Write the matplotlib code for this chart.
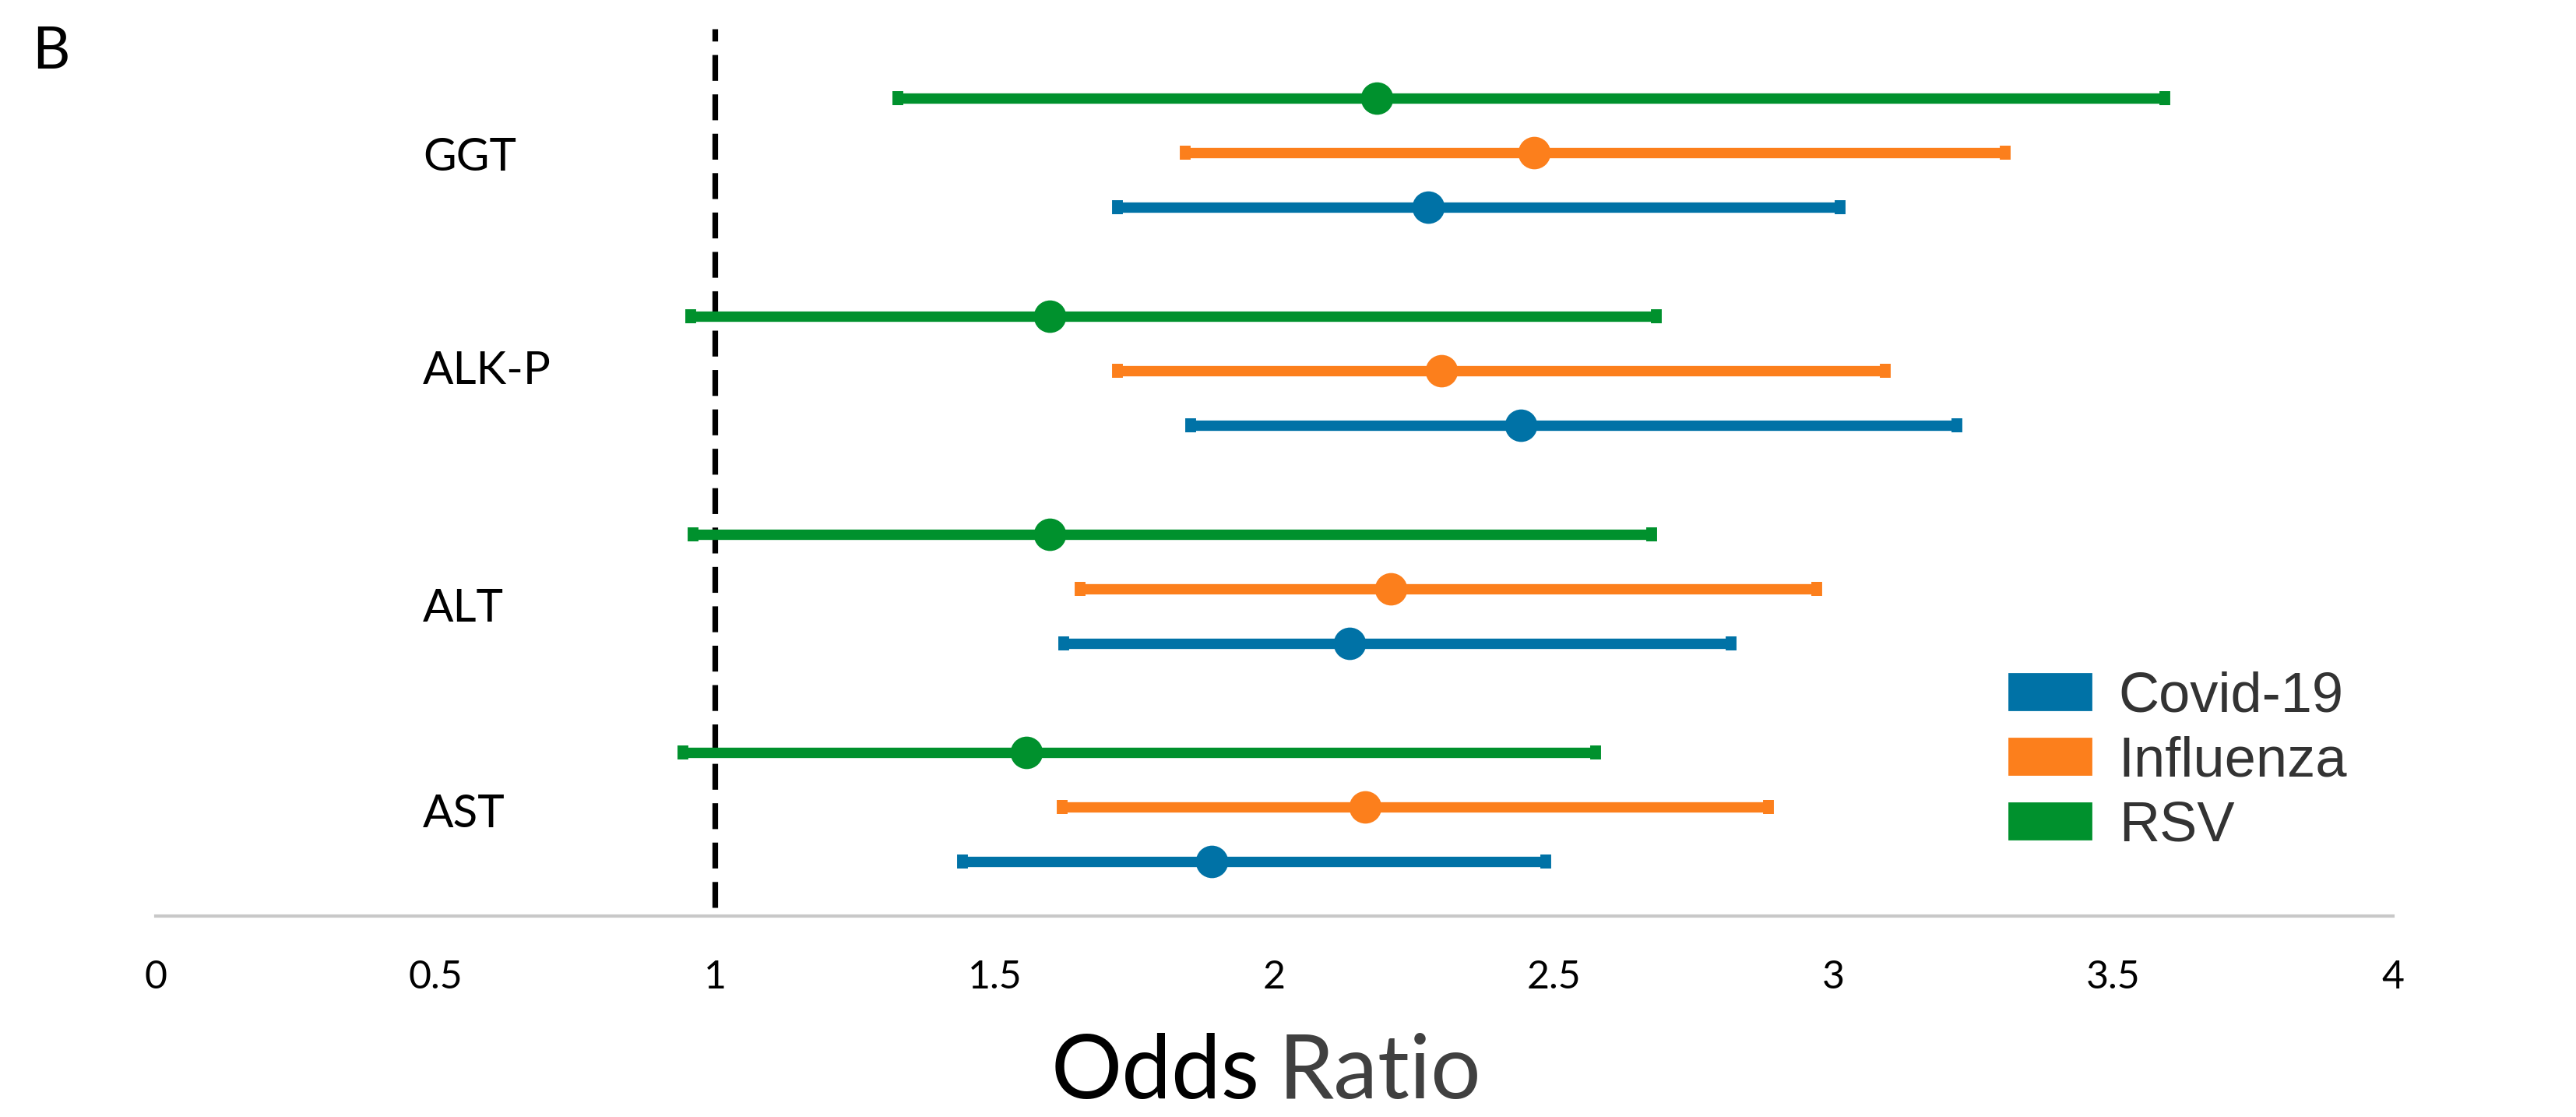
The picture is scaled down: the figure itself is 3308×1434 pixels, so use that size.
import numpy as np
import matplotlib
matplotlib.use("Agg")
import matplotlib.pyplot as plt
from matplotlib.patches import Patch

# liver enzymes, top to bottom
markers = ["GGT", "ALK-P", "ALT", "AST"]

covid_or = [2.275, 2.44, 2.135, 1.888]
covid_lo = [1.719, 1.850, 1.624, 1.443]
covid_hi = [3.011, 3.221, 2.817, 2.485]

flu_or = [2.465, 2.298, 2.208, 2.162]
flu_lo = [1.840, 1.719, 1.653, 1.621]
flu_hi = [3.307, 3.092, 2.970, 2.884]

rsv_or = [2.183, 1.598, 1.598, 1.557]
rsv_lo = [1.327, 0.957, 0.960, 0.942]
rsv_hi = [3.592, 2.683, 2.675, 2.575]

xticks = [0, 0.5, 1, 1.5, 2, 2.5, 3, 3.5, 4]
xticklabels = ["0", "0.5", "1", "1.5", "2", "2.5", "3", "3.5", "4"]

blue = "#0072A6"
orange = "#FC7F1C"
green = "#00912D"

W, H = 3308, 1434
fig = plt.figure(figsize=(W / 200, H / 200), dpi=200)
ax = fig.add_axes([200 / W, 1 - 1176 / H, (3073 - 200) / W, (1176 - 37) / H])

n = len(markers)
group = np.arange(n)[::-1] * 4  # GGT at top
series = [
    (covid_or, covid_lo, covid_hi, blue, 0),
    (flu_or, flu_lo, flu_hi, orange, 1),
    (rsv_or, rsv_lo, rsv_hi, green, 2),
]
for orr, lo, hi, col, off in series:
    orr = np.array(orr)
    err = [orr - np.array(lo), np.array(hi) - orr]
    ax.errorbar(orr, group + off, xerr=err, fmt="o", color=col, ecolor=col,
                elinewidth=4.8, capsize=3.4, capthick=5, markersize=14,
                zorder=3)

ax.axvline(1, ymin=0.01, ymax=1, color="black", lw=2.6, dashes=(4.6, 2.4), zorder=2)

# category labels inside the plot
label_y = [12.9, 8.99, 4.64, 0.86]
for name, yy in zip(markers, label_y):
    ax.text(0.478, yy, name, fontsize=21, family="Lato", ha="left", va="center",
            color="black")

ax.set_xlim(0, 4)
ax.set_ylim(-1, 15.27)
ax.set_xticks(xticks)
ax.set_xticklabels(xticklabels, family="Lato", fontsize=18)
ax.tick_params(axis="x", length=0, pad=20)
ax.set_yticks([])
for s in ["top", "right", "left"]:
    ax.spines[s].set_visible(False)
ax.spines["bottom"].set_color("#c8c8c8")
ax.spines["bottom"].set_linewidth(1.5)

handles = [Patch(color=blue), Patch(color=orange), Patch(color=green)]
leg = fig.legend(handles, ["Covid-19", "Influenza", "RSV"], loc="center left",
                 bbox_to_anchor=(2580 / W, 1 - 978 / H), frameon=False,
                 prop={"family": "Liberation Sans", "size": 26},
                 handlelength=1.45, handleheight=0.6, handletextpad=0.5,
                 labelspacing=0.22, borderpad=0, borderaxespad=0)
for t in leg.get_texts():
    t.set_color("#333333")

fig.text(41 / W, 1 - 66 / H, "B", fontsize=27, family="Lato", ha="left", va="center")

# axis title in two tones
t1 = fig.text(1350 / W, 24 / H, "Odds", fontsize=41, family="Lato",
              ha="left", va="baseline", color="black")
fig.canvas.draw()
bb = t1.get_window_extent()
fig.text((bb.x1 + 24) / W, 24 / H, "Ratio", fontsize=41, family="Lato",
         ha="left", va="baseline", color="#404040")

fig.savefig("out.png", dpi=200)
